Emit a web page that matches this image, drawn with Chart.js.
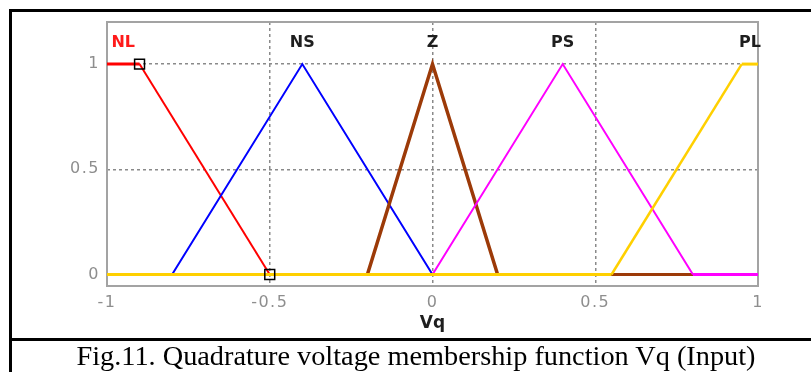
<!DOCTYPE html>
<html>
<head>
<meta charset="utf-8">
<script src="https://cdn.jsdelivr.net/npm/chart.js@4/dist/chart.umd.min.js"></script>
<style>
  html, body { margin: 0; padding: 0; background: #fff; overflow: hidden; }
  #wrap { position: relative; width: 811px; height: 372px; overflow: hidden; }
  #chart { position: absolute; left: 0; top: 0; }
  .rule { position: absolute; background: #000; }
  #caption {
    position: absolute; left: 0; width: 832px; top: 339px;
    text-align: center; font-family: "Liberation Serif", "Times New Roman", serif;
    font-size: 28.3px; line-height: 34px; color: #000; white-space: nowrap;
  }
</style>
</head>
<body>
<div id="wrap">
  <canvas id="chart" width="811" height="372"></canvas>
  <div class="rule" style="left:9px; top:9px; width:3px; height:372px;"></div>
  <div class="rule" style="left:9px; top:9px; width:802px; height:3px;"></div>
  <div class="rule" style="left:9px; top:338px; width:802px; height:3px;"></div>
  <div id="caption">Fig.11. Quadrature voltage membership function Vq (Input)</div>
</div>
<script>
// Membership functions of the input variable Vq (breakpoints of each piecewise-linear curve)
const mfNames  = ['NL', 'NS', 'Z', 'PS', 'PL'];
const nlX = [-1, -0.9, -0.5, 1];      const nlY = [1, 1, 0, 0];
const nsX = [-1, -0.8, -0.4, 0, 1];   const nsY = [0, 0, 1, 0, 0];
const zX  = [-1, -0.2, 0, 0.2, 1];    const zY  = [0, 0, 1, 0, 0];
const psX = [-1, 0, 0.4, 0.8, 1];     const psY = [0, 0, 1, 0, 0];
const plX = [-1, 0.55, 0.95, 1];      const plY = [0, 0, 1, 1];

// Editing handles on the selected function (NL)
const handleX = [-0.9, -0.5];
const handleY = [1, 0];

// Name labels sit over the centre of each function's plateau/peak
const labelX = [-0.95, -0.4, 0, 0.4, 0.975];
const labelY = 1.1;

// Axis ticks and title
const xTickValues = [-1, -0.5, 0, 0.5, 1];
const xTickLabels = ['-1', '-0.5', '0', '0.5', '1'];
const yTickValues = [0, 0.5, 1];
const yTickLabels = ['0', '0.5', '1'];
const xTitle = 'Vq';

const pts = (xs, ys) => xs.map((x, i) => ({ x, y: ys[i] }));

const labelColors = ['#ff1a1a', '#1e1e1e', '#1e1e1e', '#1e1e1e', '#1e1e1e'];

const framePlugin = {
  id: 'frame',
  beforeDraw(chart) {
    // wide-set digits for the tick labels
    chart.ctx.letterSpacing = '1.5px';
  },
  beforeDatasetsDraw(chart) {
    const { ctx, chartArea: a } = chart;
    ctx.letterSpacing = '0px';
    ctx.save();
    ctx.strokeStyle = '#a3a3a3';
    ctx.lineWidth = 2;
    ctx.strokeRect(a.left, a.top, a.right - a.left, a.bottom - a.top);
    ctx.restore();
  },
  afterDatasetsDraw(chart) {
    const { ctx, chartArea: a, scales: { x, y } } = chart;
    ctx.save();
    ctx.letterSpacing = '0px';
    ctx.font = 'bold 16px "DejaVu Sans"';
    ctx.textAlign = 'center';
    ctx.textBaseline = 'middle';
    mfNames.forEach((name, i) => {
      ctx.fillStyle = labelColors[i];
      ctx.fillText(name, x.getPixelForValue(labelX[i]), y.getPixelForValue(labelY));
    });
    ctx.font = 'bold 17px "DejaVu Sans"';
    ctx.fillStyle = '#1e1e1e';
    ctx.fillText(xTitle, (a.left + a.right) / 2, a.bottom + 38);
    ctx.restore();
  }
};

// flat stretches of every curve are drawn at a common width
const lineDs = (label, data, color, width, order) => ({
  label, data, borderColor: color, backgroundColor: color, borderWidth: width,
  pointRadius: 0, tension: 0, fill: false, order, showLine: true,
  segment: { borderWidth: (c) => (c.p0.parsed.y === c.p1.parsed.y ? 3 : width) }
});

new Chart(document.getElementById('chart'), {
  type: 'scatter',
  data: {
    datasets: [
      {
        label: 'handles', data: pts(handleX, handleY), showLine: false,
        pointStyle: 'rect', pointRadius: 7, pointHoverRadius: 7,
        borderColor: '#000', backgroundColor: 'rgba(0,0,0,0)', borderWidth: 1.5, order: 0
      },
      lineDs('PL', pts(plX, plY), '#ffd000', 2.5, 1),
      lineDs('PS', pts(psX, psY), '#ff00ff', 2, 2),
      lineDs('Z',  pts(zX, zY),   '#9c3a08', 3.5, 3),
      lineDs('NS', pts(nsX, nsY), '#0000ff', 2, 4),
      lineDs('NL', pts(nlX, nlY), '#ff0000', 2, 5)
    ]
  },
  options: {
    responsive: false,
    animation: false,
    devicePixelRatio: 1,
    layout: { padding: { left: 0, right: 53, top: 22, bottom: 0 } },
    plugins: { legend: { display: false }, tooltip: { enabled: false } },
    scales: {
      x: {
        type: 'linear', min: -1, max: 1,
        afterBuildTicks(s) { s.ticks = xTickValues.map(v => ({ value: v })); },
        afterFit(s) { s.height = 86; },
        ticks: {
          callback: (v) => xTickLabels[xTickValues.indexOf(v)],
          color: '#8e8e8e', font: { family: 'DejaVu Sans', size: 16 }, padding: 7, maxRotation: 0
        },
        grid: {
          drawTicks: false,
          lineWidth: 1.5,
          color: (c) => (c.tick && Math.abs(c.tick.value) === 1) ? 'rgba(0,0,0,0)' : '#8a8a8a'
        },
        border: { display: false, dash: [3, 3] }
      },
      y: {
        type: 'linear', min: -0.0547, max: 1.2,
        afterBuildTicks(s) { s.ticks = yTickValues.map(v => ({ value: v })); },
        afterFit(s) { s.width = 107; },
        ticks: {
          callback: (v) => yTickLabels[yTickValues.indexOf(v)],
          color: '#8e8e8e', font: { family: 'DejaVu Sans', size: 16 }, padding: 7
        },
        grid: { drawTicks: false, lineWidth: 1.5, color: '#8a8a8a' },
        border: { display: false, dash: [3, 3] }
      }
    }
  },
  plugins: [framePlugin]
});
</script>
</body>
</html>
